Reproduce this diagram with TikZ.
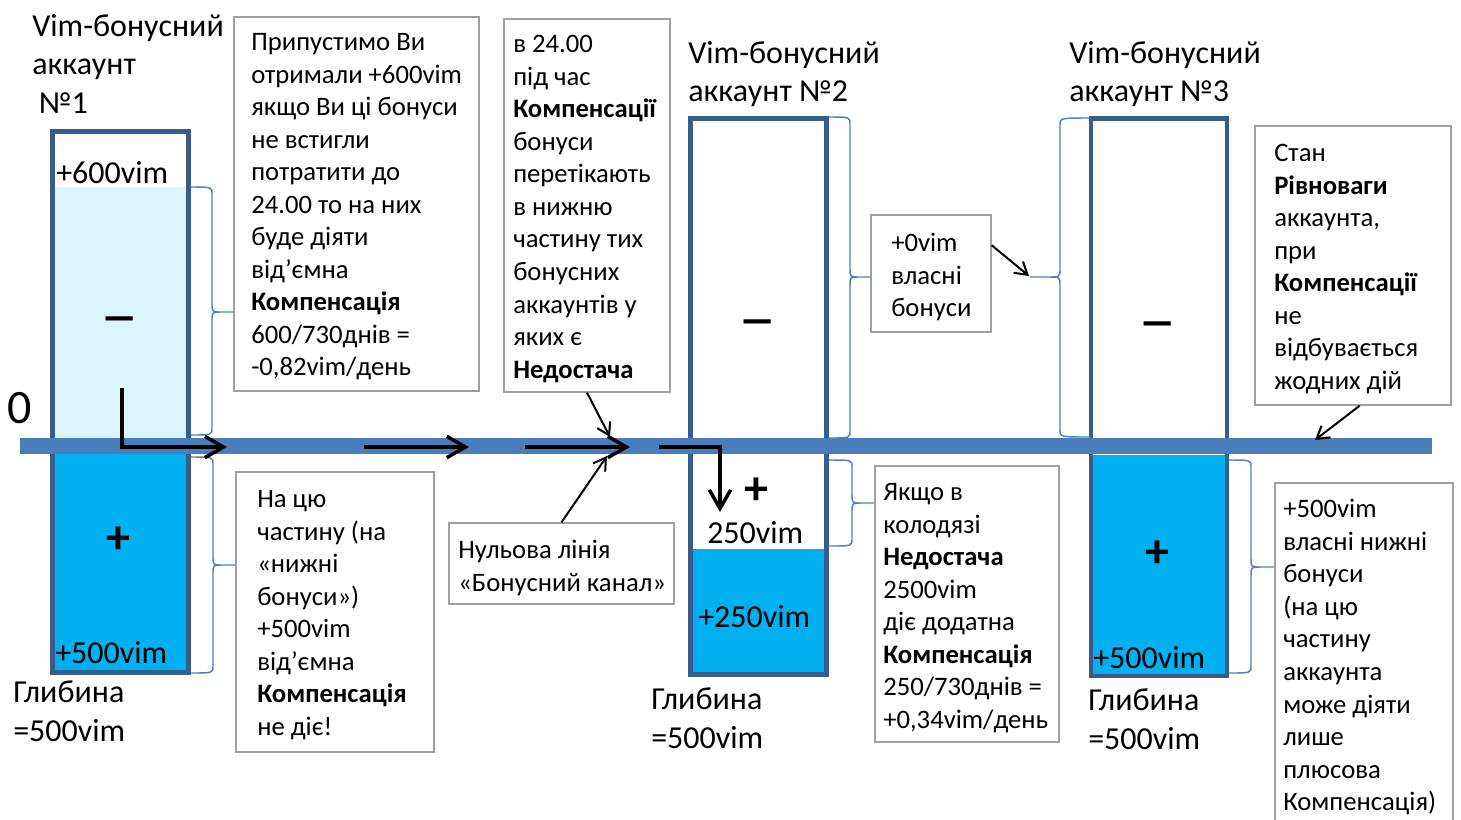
\documentclass[tikz,border=0pt]{standalone}
\usepackage{fontspec}
\usepackage{graphicx}
\setmainfont{Carlito}
\usetikzlibrary{fit,arrows.meta}
\definecolor{accborder}{HTML}{385D8A}
\definecolor{chan}{HTML}{4A7EBB}
\definecolor{lightcyan}{HTML}{DBF5FD}
\definecolor{cyanfill}{HTML}{00B0F0}
\definecolor{bracec}{HTML}{4F81BD}
\definecolor{boxgray}{HTML}{A0A0A0}
% x0, xm, xt, ytop, ymid, ybot
\newcommand\accbrace[6]{%
  \draw[bracestyle] (#1,#4) .. controls (#2,#4) .. (#2,#4+7) -- (#2,#5-9)
    .. controls (#2,#5) .. ({#2+0.4*(#3-#2)},#5) -- (#3,#5) -- ({#2+0.4*(#3-#2)},#5)
    .. controls (#2,#5) .. (#2,#5+9) -- (#2,#6-7) .. controls (#2,#6) .. (#1,#6);}
\newcommand\minussign{\scalebox{1.6}[1]{–}}
\begin{document}
\begin{tikzpicture}[x=0.75pt,y=-0.75pt,
  txtS/.style={font=\fontsize{20}{24.4}\selectfont, inner sep=0, anchor=north west, align=left, yshift=12.6pt, execute at begin node=\strut},
  txtL/.style={font=\fontsize{24}{29}\selectfont, inner sep=0, anchor=north west, align=left, yshift=20.3pt, execute at begin node=\strut},
  ml/.style={yshift=-4.5pt},
  signtxt/.style={font=\fontsize{36}{43}\selectfont\bfseries, inner sep=0, anchor=base},
  infobox/.style={draw=boxgray, line width=1pt, inner sep=0, fill=white},
  acc/.style={draw=accborder, line width=3.4pt, inner sep=0},
  bracestyle/.style={draw=bracec, line width=1.1pt},
  thickarrow/.style={line width=2.6pt, -{Straight Barb[length=14pt,width=16pt]}},
  thinarrow/.style={line width=1.5pt, -{Straight Barb[length=9pt,width=11pt]}},
]
\useasboundingbox (0,0) rectangle (1461,819);
\fill[white] (0,0) rectangle (1461,819);

% account fills
\fill[lightcyan] (52.5,187) rectangle (188.5,446);
\fill[cyanfill] (52.5,446) rectangle (188.5,672.5);
\fill[cyanfill] (690.5,549) rectangle (826.5,674.5);
\fill[cyanfill] (1091,455) rectangle (1227,676);
% accounts
\node[acc, fit={(52.5,131.5)(188.5,672.5)}] (acc1) {};
\node[acc, fit={(690.5,118.5)(826.5,674.5)}] (acc2) {};
\node[acc, fit={(1091,118.5)(1227,676)}] (acc3) {};

% channel
\node[fill=chan, inner sep=0, fit={(20,438)(1432,454)}] (chan) {};

% braces
\accbrace{191}{212}{234}{187}{312}{435}
\accbrace{191}{213}{236}{457}{565}{673}
\accbrace{829}{850}{873}{117}{277}{438}
\accbrace{829}{852}{875}{460}{503}{546}
\accbrace{1090}{1060}{1030}{118}{277}{437}
\accbrace{1229}{1251}{1275}{460}{567}{673}

% titles and labels
\node[txtL, ml] (t1) at (32,35) {Vim-бонусний\\аккаунт\\\hspace*{5pt}№1};
\node[txtL, ml] (t2) at (688,62) {Vim-бонусний\\аккаунт №2};
\node[txtL, ml] (t3) at (1069,62) {Vim-бонусний\\аккаунт №3};
\node[font=\fontsize{36}{43}\selectfont, inner sep=0, anchor=base west] (zero) at (7,423) {0};

\node[txtL] (l600) at (56,183) {+600vim};
\node[txtL] (l500a) at (55,663) {+500vim};
\node[txtL, ml] (d1) at (13,702) {Глибина\\=500vim};
\node[txtL] (l250) at (707,543) {250vim};
\node[txtL] (l250b) at (698,627) {+250vim};
\node[txtL, ml] (d2) at (651,709) {Глибина\\=500vim};
\node[txtL] (l500c) at (1093,668) {+500vim};
\node[txtL, ml] (d3) at (1088,710) {Глибина\\=500vim};

\node[signtxt] (m1) at (120,332) {\minussign};
\node[signtxt] (p1) at (118,553) {+};
\node[signtxt] (m2) at (758,335) {\minussign};
\node[signtxt] (p2) at (756,504) {+};
\node[signtxt] (m3) at (1158,337) {\minussign};
\node[signtxt] (p3) at (1157,567) {+};

% info boxes
\node[infobox, fit={(234,17)(479,391)}] (boxA) {};
\node[txtS] (boxAt) at (251,50) {Припустимо Ви\\отримали +600vim\\якщо Ви ці бонуси\\не встигли\\потратити до\\24.00 то на них\\буде діяти\\від’ємна\\\textbf{Компенсація}\\600/730днів =\\-0,82vim/день};

\node[infobox, fit={(236,472)(434,752)}] (boxB) {};
\node[txtS] (boxBt) at (257,507) {На цю\\частину (на\\«нижні\\бонуси»)\\+500vim\\від’ємна\\\textbf{Компенсація}\\не діє!};

\node[infobox, fit={(504,19)(670,392)}] (boxC) {};
\node[txtS] (boxCt) at (513,52) {в 24.00\\під час\\\textbf{Компенсації}\\бонуси\\перетікають\\в нижню\\частину тих\\бонусних\\аккаунтів у\\яких є\\\textbf{Недостача}};

\node[infobox, fit={(449,523)(674,604)}] (boxD) {};
\node[txtS] (boxDt) at (458,557) {Нульова лінія\\«Бонусний канал»};

\node[infobox, fit={(871,215)(991,332)}] (boxE) {};
\node[txtS] (boxEt) at (891,250) {+0vim\\власні\\бонуси};

\node[infobox, fit={(875,466)(1059,742)}] (boxF) {};
\node[txtS] (boxFt) at (883,500) {Якщо в\\колодязі\\\textbf{Недостача}\\2500vim\\діє додатна\\\textbf{Компенсація}\\250/730днів =\\+0,34vim/день};

\node[infobox, fit={(1255,126)(1451,405)}] (boxH) {};
\node[txtS] (boxHt) at (1274,161) {Стан\\\textbf{Рівноваги}\\аккаунта,\\при\\\textbf{Компенсації}\\не\\відбувається\\жодних дій};

\node[infobox, fit={(1275,483)(1453,830)}] (boxG) {};
\node[txtS] (boxGt) at (1283,516) {+500vim\\власні нижні\\бонуси\\(на цю\\частину\\аккаунта\\може діяти\\лише\\плюсова\\Компенсація)};

% arrows
\coordinate (a1s) at (122,388); \coordinate (a1e) at (227,447);
\coordinate (a2s) at (364,447); \coordinate (a2e) at (469,447);
\coordinate (a3s) at (525,447); \coordinate (a3e) at (630,447);
\coordinate (a4e) at (610,437);
\coordinate (a5e) at (607,456);
\coordinate (a6s) at (659,447); \coordinate (a6e) at (720,512);
\coordinate (b5tip) at (1029,276);
\coordinate (a8e) at (1315,440);

\draw[thickarrow] (a1s) |- (a1e);
\draw[thickarrow] (a2s) -- (a2e);
\draw[thickarrow] (a3s) -- (a3e);
\draw[thickarrow] (a6s) -| (a6e);
\draw[thinarrow] (boxC.south) -- (a4e);
\draw[thinarrow] (boxD.north) -- (a5e);
\draw[thinarrow] (boxE.25) -- (b5tip);
\draw[thinarrow] ([xshift=5pt]boxH.south) -- (a8e);
\end{tikzpicture}
\end{document}
